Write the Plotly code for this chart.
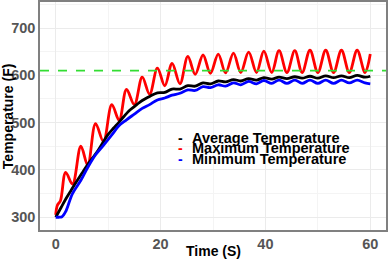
import plotly.graph_objects as go

# Max temperature: peak/trough readings
t_max = [0, 0.3, 0.9, 1.9, 3.2, 4.8, 6.1, 7.6, 9.1, 10.7, 12.1, 13.5, 15.0, 16.5, 17.9,
         19.4, 20.8, 22.2, 23.7, 25.2, 26.6, 28.1, 29.5, 31.0, 32.4, 33.9, 35.3, 36.8,
         38.3, 39.7, 41.2, 42.6, 44.1, 45.6, 47.0, 48.5, 50.0, 51.5, 53.0, 54.5, 56.0,
         57.5, 59.0, 60]
v_max = [305, 325, 335, 395, 370, 450, 410, 498, 460, 538, 505, 570, 538, 596, 560,
         615, 578, 625, 582, 640, 602, 643, 604, 645, 605, 647, 606, 649,
         606, 651, 606, 652, 606, 652, 606, 653, 606, 653, 606, 653, 606,
         653, 606, 645]

t_avg = [0, 1, 2, 3, 4, 5, 6, 7, 8, 9, 10, 11, 12, 13, 14, 15, 16, 17, 18,
         19.4, 20.8, 22.2, 23.7, 25.2, 26.6, 28.1, 29.5, 31.0, 32.4, 33.9, 35.3, 36.8,
         38.3, 39.7, 41.2, 42.6, 44.1, 45.6, 47.0, 48.5, 50.0, 51.5, 53.0, 54.5, 56.0,
         57.5, 59.0, 60]
v_avg = [300, 320, 340, 358, 376, 393, 410, 425, 440, 458, 475, 488, 500, 513, 525, 534, 543, 550, 556,
         563, 564, 571, 571, 578, 577, 584, 582, 588, 586, 591, 588, 593,
         590, 595, 592, 596, 593, 597, 594, 598, 594, 599, 595, 599, 595,
         600, 596, 598]

t_min = [0, 0.6, 1.2, 1.9, 3.2, 4.8, 6.1, 7.6, 9.1, 10.7, 12.1, 13.5, 15.0, 16.5, 17.9,
         19.4, 20.8, 22.2, 23.7, 25.2, 26.6, 28.1, 29.5, 31.0, 32.4, 33.9, 35.3, 36.8,
         38.3, 39.7, 41.2, 42.6, 44.1, 45.6, 47.0, 48.5, 50.0, 51.5, 53.0, 54.5, 56.0,
         57.5, 59.0, 60]
v_min = [300, 300, 301, 312, 350, 378, 405, 432, 452, 474, 494, 506, 518, 530, 538,
         548, 552, 558, 562, 569, 568, 576, 574, 580, 577, 584, 580, 587,
         582, 589, 583, 590, 583, 590, 583, 590, 583, 590, 583, 590, 584,
         590, 584, 582]

ref_line = 610
x_ticks = [0, 20, 40, 60]
y_ticks = [300, 400, 500, 600, 700]
legend_names = ["Average Temperature", "Maximum Temperature", "Minimum Temperature"]
legend_colors = ["black", "red", "blue"]
x_title = "Time (S)"
y_title = "Temperature (F)"

FONT = "Liberation Sans, Arial"

fig = go.Figure()
fig.add_trace(go.Scatter(x=t_max, y=v_max, mode="lines", line=dict(color="red", width=2.8, shape="spline"),
                         name=legend_names[1], showlegend=False))
fig.add_trace(go.Scatter(x=t_avg, y=v_avg, mode="lines", line=dict(color="black", width=2.8, shape="spline"),
                         name=legend_names[0], showlegend=False))
fig.add_trace(go.Scatter(x=t_min, y=v_min, mode="lines", line=dict(color="blue", width=2.8, shape="spline"),
                         name=legend_names[2], showlegend=False))

fig.add_hline(y=ref_line, line=dict(color="#33DD33", width=1.6, dash="dash"))

# legend drawn as text rows (tight spacing like the reference)
for i, (nm, col) in enumerate(zip(legend_names, legend_colors)):
    yy = 0.405 - i * 0.046
    fig.add_annotation(x=0.405, y=yy, xref="paper", yref="paper",
                       xanchor="center", yanchor="middle", showarrow=False,
                       text="-", font=dict(family=FONT, size=14, color=col, weight="bold"))
    fig.add_annotation(x=0.4335, y=yy, xref="paper", yref="paper",
                       xanchor="left", yanchor="middle", showarrow=False,
                       text=nm, font=dict(family=FONT, size=14.5, color="black", weight="bold"))

# axis titles
fig.add_annotation(x=-0.092, y=0.5, xref="paper", yref="paper", textangle=-90,
                   xanchor="center", yanchor="middle", showarrow=False,
                   text=y_title, font=dict(family=FONT, size=14, color="black", weight="bold"))
fig.add_annotation(x=0.5, y=-0.092, xref="paper", yref="paper",
                   xanchor="center", yanchor="middle", showarrow=False,
                   text=x_title, font=dict(family=FONT, size=14, color="black", weight="bold"))

grid_major = "#EBEBEB"
fig.update_xaxes(range=[-3, 63], tickvals=x_ticks, showgrid=True, gridcolor=grid_major, gridwidth=1,
                 minor=dict(tickvals=[10, 30, 50], showgrid=True, gridcolor="#F4F4F4", gridwidth=1),
                 zeroline=False, showline=True, mirror=True, linecolor="#808080", linewidth=1.5,
                 ticks="", automargin=False,
                 tickfont=dict(family=FONT, size=14.5, color="#555555", weight="bold"))
fig.update_yaxes(range=[273, 755], tickvals=y_ticks, showgrid=True, gridcolor=grid_major, gridwidth=1,
                 minor=dict(tickvals=[350, 450, 550, 650, 750], showgrid=True, gridcolor="#F4F4F4", gridwidth=1),
                 zeroline=False, showline=True, mirror=True, linecolor="#808080", linewidth=1.5,
                 ticks="", automargin=False,
                 tickfont=dict(family=FONT, size=14.5, color="#555555", weight="bold"))

fig.update_layout(width=388, height=259, margin=dict(l=40, r=2, t=2, b=29),
                  plot_bgcolor="white", paper_bgcolor="white", showlegend=False)

fig.write_html("out.html", config={"displayModeBar": False},
               post_script="document.body.style.margin='0px';")
